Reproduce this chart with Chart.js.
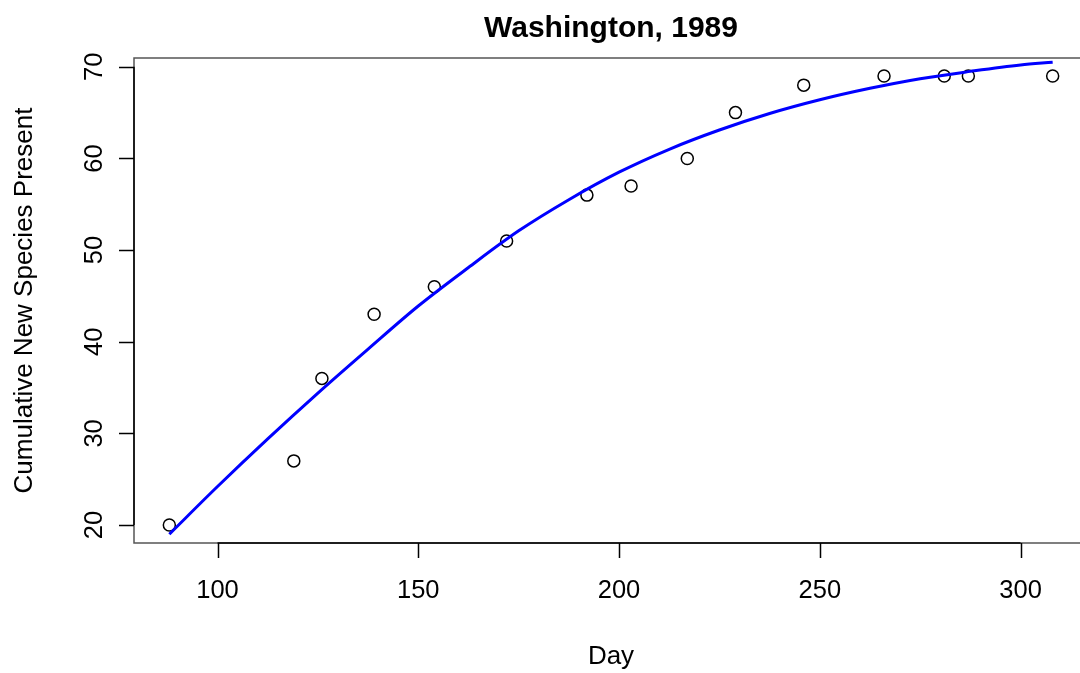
<!DOCTYPE html>
<html>
<head>
<meta charset="utf-8">
<script src="https://cdn.jsdelivr.net/npm/chart.js@4.4.1/dist/chart.umd.min.js"></script>
<style>
  html, body { margin: 0; padding: 0; background: #fff; overflow: hidden; }
  #wrap { position: absolute; left: 0; top: 0; width: 1090px; height: 673px; }
</style>
</head>
<body>
<div id="wrap"><canvas id="c" width="1090" height="673"></canvas></div>
<script>
const title = "Washington, 1989";
const xTitle = "Day";
const yTitle = "Cumulative New Species Present";

const days = [88, 119, 126, 139, 154, 172, 192, 203, 217, 229, 246, 266, 281, 287, 308];
const species = [20, 27, 36, 43, 46, 51, 56, 57, 60, 65, 68, 69, 69, 69, 69];

const fitDays = [88, 100, 112.5, 125, 137.5, 150, 162.5, 175, 187.5, 200, 212.5, 225, 237.5, 250, 262.5, 275, 287.5, 300, 308];
const fitValues = [19.0, 24.2, 29.4, 34.4, 39.2, 43.9, 48.1, 52.1, 55.5, 58.5, 61.0, 63.1, 64.9, 66.4, 67.65, 68.7, 69.5, 70.2, 70.5];

const xTicks = [100, 150, 200, 250, 300];
const yTicks = [20, 30, 40, 50, 60, 70];

const FONT = '"Liberation Sans", Arial, Helvetica, sans-serif';

const rAxes = {
  id: 'rAxes',
  afterDraw(chart) {
    const ctx = chart.ctx;
    const a = chart.chartArea;
    const xs = chart.scales.x, ys = chart.scales.y;
    ctx.save();
    // box
    ctx.strokeStyle = '#555';
    ctx.lineWidth = 1.5;
    ctx.strokeRect(a.left, a.top, a.right - a.left, a.bottom - a.top);
    // axes
    ctx.strokeStyle = '#000';
    ctx.lineWidth = 1.5;
    const tl = 15;
    ctx.beginPath();
    ctx.moveTo(xs.getPixelForValue(xTicks[0]), a.bottom);
    ctx.lineTo(xs.getPixelForValue(xTicks[xTicks.length - 1]), a.bottom);
    xTicks.forEach(v => {
      const px = Math.round(xs.getPixelForValue(v)) + 0.5;
      ctx.moveTo(px, a.bottom);
      ctx.lineTo(px, a.bottom + tl);
    });
    ctx.moveTo(a.left, ys.getPixelForValue(yTicks[0]));
    ctx.lineTo(a.left, ys.getPixelForValue(yTicks[yTicks.length - 1]));
    yTicks.forEach(v => {
      const py = Math.round(ys.getPixelForValue(v)) + 0.5;
      ctx.moveTo(a.left, py);
      ctx.lineTo(a.left - tl, py);
    });
    ctx.stroke();

    ctx.fillStyle = '#000';
    ctx.font = '25.5px ' + FONT;
    ctx.textAlign = 'center';
    ctx.textBaseline = 'middle';
    xTicks.forEach(v => {
      ctx.fillText(String(v), xs.getPixelForValue(v), 591);
    });
    yTicks.forEach(v => {
      ctx.save();
      ctx.translate(95, ys.getPixelForValue(v));
      ctx.rotate(-Math.PI / 2);
      ctx.fillText(String(v), 0, 0);
      ctx.restore();
    });
    ctx.font = '26px ' + FONT;
    ctx.fillText(xTitle, 611, 657);
    ctx.save();
    ctx.translate(25, (a.top + a.bottom) / 2);
    ctx.rotate(-Math.PI / 2);
    ctx.fillText(yTitle, 0, 0);
    ctx.restore();
    ctx.font = 'bold 30px ' + FONT;
    ctx.fillText(title, 611, 29);
    ctx.restore();
  }
};

const chart = new Chart(document.getElementById('c'), {
  type: 'scatter',
  data: {
    datasets: [
      {
        label: 'fit',
        data: fitDays.map((d, i) => ({ x: d, y: fitValues[i] })),
        showLine: true,
        borderColor: '#0000ff',
        borderWidth: 3,
        pointRadius: 0,
        cubicInterpolationMode: 'monotone',
        fill: false
      },
      {
        label: 'observed',
        data: days.map((d, i) => ({ x: d, y: species[i] })),
        showLine: false,
        pointRadius: 6,
        pointStyle: 'circle',
        borderColor: '#000',
        borderWidth: 1.5,
        backgroundColor: 'rgba(255,255,255,0)'
      }
    ]
  },
  options: {
    responsive: false,
    devicePixelRatio: 1,
    animation: false,
    layout: { autoPadding: false, padding: { left: 134, top: 58, right: 2, bottom: 130 } },
    plugins: { legend: { display: false }, tooltip: { enabled: false } },
    scales: {
      x: { type: 'linear', min: 79.2, max: 316.8, display: false },
      y: { type: 'linear', min: 18.04, max: 70.96, display: false }
    }
  },
  plugins: [rAxes]
});
</script>
</body>
</html>
